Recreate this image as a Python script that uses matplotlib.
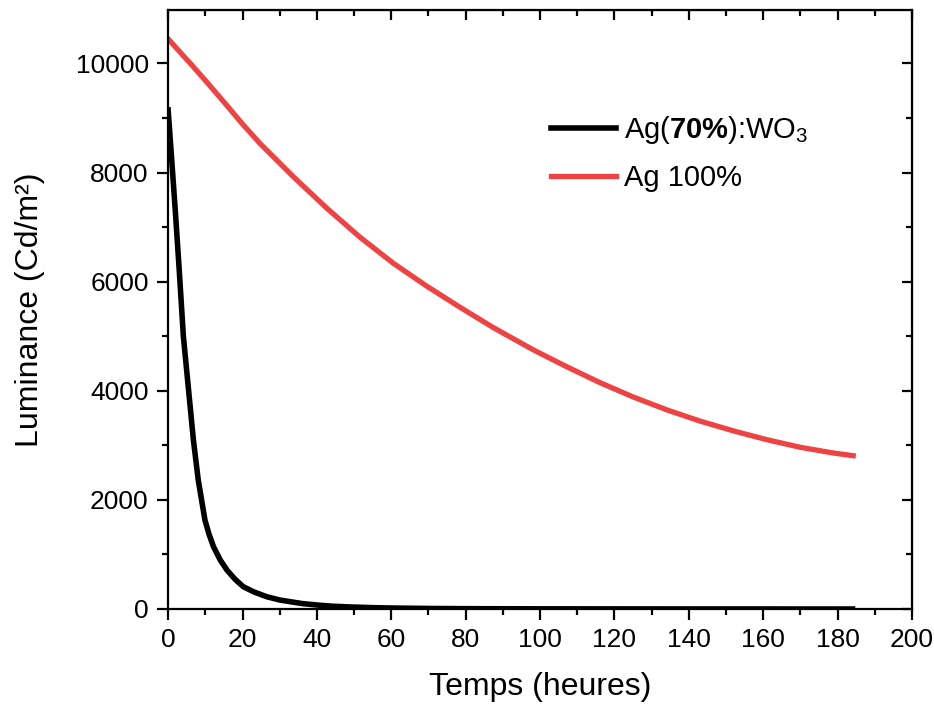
import matplotlib
matplotlib.use('Agg')
import matplotlib.pyplot as plt
from matplotlib.ticker import MultipleLocator

plt.rcParams['font.family'] = ['Liberation Sans', 'DejaVu Sans']
plt.rcParams['mathtext.fontset'] = 'custom'
plt.rcParams['mathtext.rm'] = 'Liberation Sans'
plt.rcParams['mathtext.bf'] = 'Liberation Sans:bold'

# Ag(70%):WO3 sample
t_wo3 = [0, 1, 2, 3, 4.1, 5.5, 6.8, 8.1, 9.9, 11, 12.2, 14, 15.8, 18, 20.2, 23, 26.5, 30,
         32.8, 36, 40, 44, 49, 55, 60, 70, 80, 100, 140, 184]
lum_wo3 = [9150, 8200, 7230, 6200, 5000, 4013, 3097, 2364, 1631, 1370, 1142, 900, 715, 545,
           409, 315, 225, 165, 134, 100, 73, 52, 37, 25, 18, 10, 6, 3, 1, 0]

# Ag 100% sample
t_ag = [0, 6.8, 10, 15.8, 20, 24.7, 33.7, 42.7, 51.6, 60.6, 69.5, 78.5, 87.4, 98.2,
        107.2, 116.1, 125.1, 134.1, 143, 152, 160.9, 169.9, 178.8, 184.2]
lum_ag = [10450, 9938, 9690, 9230, 8890, 8534, 7922, 7345, 6815, 6335, 5920,
          5530, 5160, 4750, 4440, 4150, 3885, 3650, 3445, 3265, 3105, 2965, 2860, 2810]

fig = plt.figure(figsize=(9.34, 7.06), dpi=100)
ax = fig.add_axes([0.18, 0.1374, 0.7964, 0.8484])

ax.plot(t_wo3, lum_wo3, color='black', lw=4, label=r'Ag($\mathbf{70\%}$):WO$_3$',
        solid_joinstyle='round')
ax.plot(t_ag, lum_ag, color='#EF4343', lw=3.8, label='Ag 100%', solid_joinstyle='round')

ax.set_xlim(0, 200)
ax.set_ylim(0, 10980)
ax.xaxis.set_major_locator(MultipleLocator(20))
ax.xaxis.set_minor_locator(MultipleLocator(10))
ax.yaxis.set_major_locator(MultipleLocator(2000))
ax.yaxis.set_minor_locator(MultipleLocator(1000))

for s in ax.spines.values():
    s.set_linewidth(1.6)
ax.tick_params(which='major', direction='out', length=8, width=1.6, labelsize=19, pad=6)
ax.tick_params(which='minor', direction='out', length=4.5, width=1.6)

# inward ticks on top and right
top = ax.secondary_xaxis('top')
right = ax.secondary_yaxis('right')
for sec in (top, right):
    sec.tick_params(which='major', direction='in', length=7.5, width=1.6)
    sec.tick_params(which='minor', direction='in', length=4, width=1.6)
top.xaxis.set_major_locator(MultipleLocator(20))
top.xaxis.set_minor_locator(MultipleLocator(10))
top.set_xticklabels([])
right.yaxis.set_major_locator(MultipleLocator(2000))
right.yaxis.set_minor_locator(MultipleLocator(1000))
right.set_yticklabels([])

ax.set_xlabel('Temps (heures)', fontsize=23, labelpad=14)
ax.set_ylabel('Luminance (Cd/m²)', fontsize=23, labelpad=22)

ax.legend(loc='upper left', bbox_to_anchor=(0.48, 0.87), frameon=False, fontsize=21,
          handlelength=2.2, handletextpad=0.3, labelspacing=0.62)

fig.savefig('out.png', dpi=100)
